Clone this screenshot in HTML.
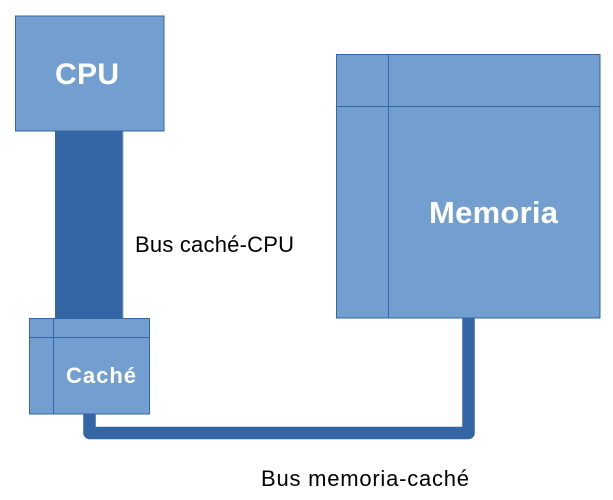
<!DOCTYPE html>
<html>
<head>
<meta charset="utf-8">
<style>
  html, body { margin: 0; padding: 0; background: #ffffff; }
  body { width: 613px; height: 500px; overflow: hidden; }
  svg { display: block; }
  text { font-family: "Liberation Sans", "DejaVu Sans", sans-serif; }
</style>
</head>
<body>
<svg width="613" height="500" viewBox="0 0 613 500" xmlns="http://www.w3.org/2000/svg">
  <rect x="0" y="0" width="613" height="500" fill="#ffffff"/>

  <!-- CPU-cache bus -->
  <rect x="55" y="131" width="68" height="188" fill="#3465a4"/>
  <rect x="122" y="131" width="1.3" height="188" fill="#5a82b8"/>

  <!-- CPU box -->
  <rect x="15.5" y="16" width="148.5" height="115" fill="#729fcf" stroke="#3465a4" stroke-width="1"/>
  <text x="55" y="84" font-size="30" font-weight="bold" fill="#ffffff" textLength="64">CPU</text>

  <!-- Memory-cache bus -->
  <path d="M 89.5 413 L 89.5 433 L 468.5 433 L 468.5 318" fill="none" stroke="#3465a4" stroke-width="12.5" stroke-linejoin="round"/>

  <!-- Cache box -->
  <rect x="29.5" y="318.5" width="120" height="95.5" fill="#729fcf" stroke="#3465a4" stroke-width="1"/>
  <line x1="53.5" y1="318.5" x2="53.5" y2="414" stroke="#3465a4" stroke-width="1"/>
  <line x1="29.5" y1="337.5" x2="149.5" y2="337.5" stroke="#3465a4" stroke-width="1"/>
  <text x="66" y="383" font-size="22" font-weight="bold" fill="#ffffff" textLength="70">Caché</text>

  <!-- Memory box -->
  <rect x="336.5" y="54.5" width="263.5" height="263.5" fill="#729fcf" stroke="#3465a4" stroke-width="1"/>
  <line x1="388.5" y1="54.5" x2="388.5" y2="318" stroke="#3465a4" stroke-width="1"/>
  <line x1="336.5" y1="106.5" x2="600" y2="106.5" stroke="#3465a4" stroke-width="1"/>
  <text x="429" y="223" font-size="31" font-weight="bold" fill="#ffffff" textLength="129">Memoria</text>

  <!-- Labels -->
  <text x="135" y="252" font-size="22" fill="#000000" textLength="159">Bus caché-CPU</text>
  <text x="261" y="486" font-size="22" fill="#000000" textLength="208">Bus memoria-caché</text>
</svg>
</body>
</html>
